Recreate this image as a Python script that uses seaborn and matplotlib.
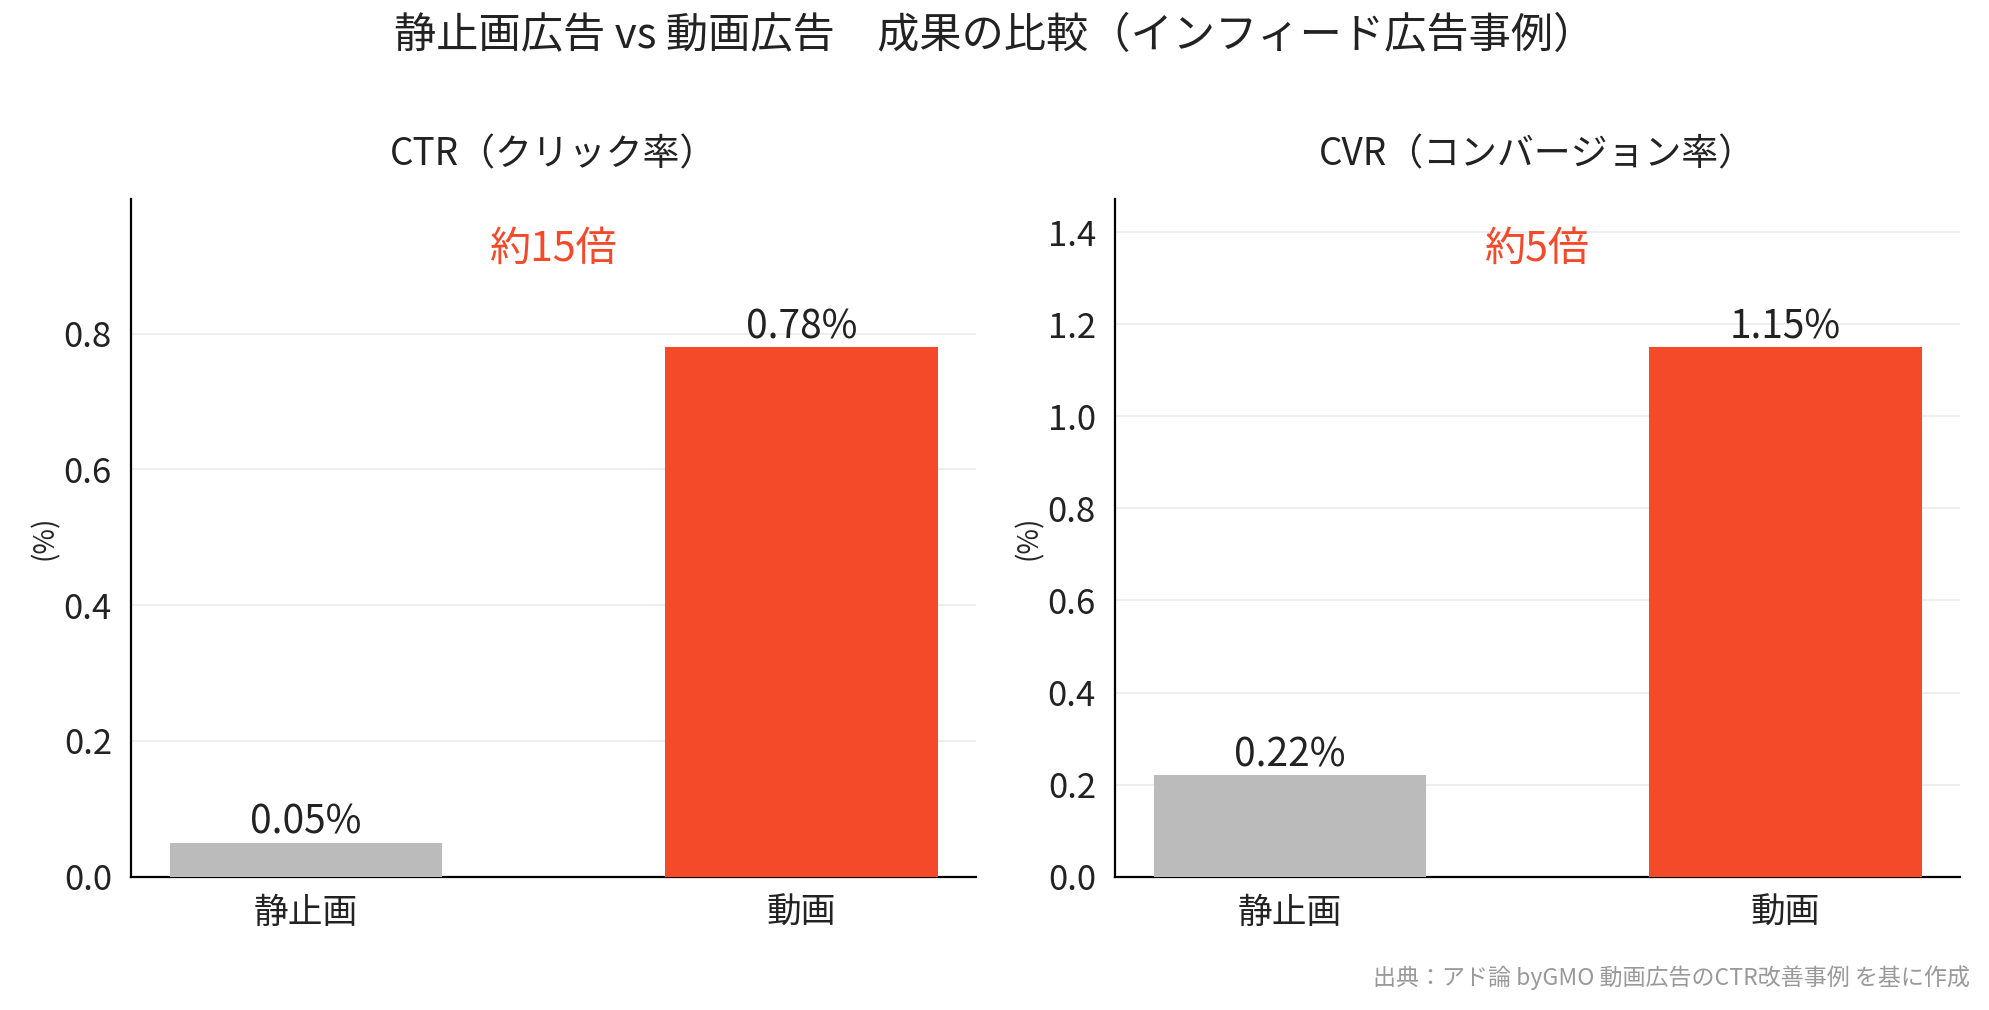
import pandas as pd
import matplotlib.pyplot as plt
import seaborn as sns

# データ
categories = ["静止画", "動画"]
ctr_values = [0.05, 0.78]
cvr_values = [0.22, 1.15]
ratio_labels = ["約15倍", "約5倍"]
panel_titles = ["CTR（クリック率）", "CVR（コンバージョン率）"]
bar_colors = ["#BBBBBB", "#F54A2A"]

sns.set_style("white")
plt.rcParams["font.family"] = ["Noto Sans CJK JP", "DejaVu Sans"]

fig, axes = plt.subplots(1, 2, figsize=(9.95, 5.05), dpi=200)
fig.subplots_adjust(left=0.066, right=0.985, top=0.803, bottom=0.132, wspace=0.165)

for ax, values, title, ratio in zip(axes, [ctr_values, cvr_values], panel_titles, ratio_labels):
    df = pd.DataFrame({"種類": categories, "値": values})
    sns.barplot(data=df, x="種類", y="値", hue="種類", palette=bar_colors,
                saturation=1, linewidth=0, legend=False, width=0.55, ax=ax, zorder=3)
    for cont in ax.containers:
        ax.bar_label(cont, labels=[f"{v:.2f}%" for v in cont.datavalues],
                     fontsize=14, padding=0, color="#222222")
    ax.set_xlim(-0.3525, 1.3525)
    ax.set_ylim(0, max(values) * 1.28)
    ax.yaxis.grid(True, color="#EEEEEE", linewidth=0.7, zorder=0)
    ax.set_axisbelow(True)
    sns.despine(ax=ax)
    for s in ["left", "bottom"]:
        ax.spines[s].set_color("black")
        ax.spines[s].set_linewidth(0.8)
    ax.tick_params(axis="both", labelsize=12.5, length=3.5, width=0.6, colors="#222222")
    ax.set_xlabel("")
    ax.set_ylabel("(%)", fontsize=10, labelpad=1.5)
    ax.set_title(title, fontsize=13.3, pad=12, color="#222222")
    ax.text(0.5, 0.925, ratio, transform=ax.transAxes, ha="center", va="center",
            fontsize=14.8, color="#F54A2A")

fig.suptitle("静止画広告 vs 動画広告　成果の比較（インフィード広告事例）",
             fontsize=15.2, y=0.964, va="center", color="#222222")
fig.text(0.990, 0.032, "出典：アド論 byGMO 動画広告のCTR改善事例 を基に作成",
         ha="right", va="center", fontsize=8.3, color="#999999")

fig.savefig("out.png", dpi=200)
